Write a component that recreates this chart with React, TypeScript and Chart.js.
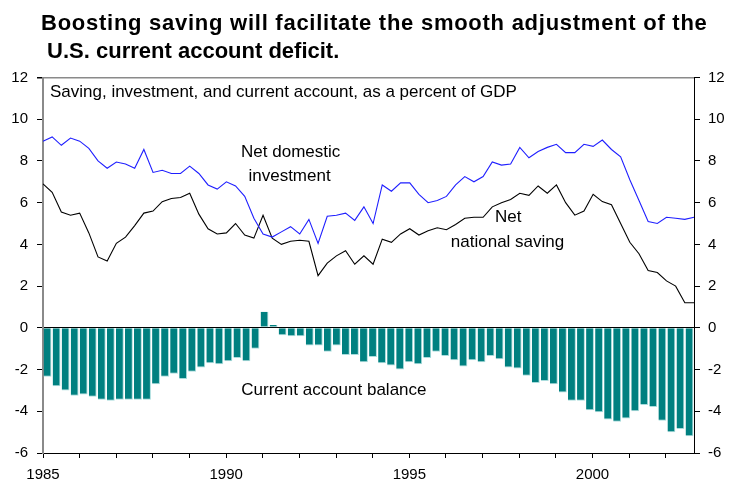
import React, { useEffect, useRef } from 'react';
import { Chart, registerables } from 'chart.js';

Chart.register(...registerables);

const YEARS = [1985, 1986, 1987, 1988, 1989, 1990, 1991, 1992, 1993, 1994, 1995, 1996, 1997, 1998, 1999, 2000, 2001, 2002];
const QUARTER_NAMES = ['Q1', 'Q2', 'Q3', 'Q4'];
const QUARTERS = YEARS.flatMap((y) => QUARTER_NAMES.map((q) => `${y}${q}`));
const YEAR_LABELS = [1985, 1990, 1995, 2000];
const Y_TICKS = [-6, -4, -2, 0, 2, 4, 6, 8, 10, 12];
const X_MIN = 1985;
const X_MAX = 2002.77;

const NET_DOMESTIC_INVESTMENT = [
  8.95, 9.15, 8.75, 9.1, 8.95, 8.6, 8.0, 7.65, 7.95, 7.85, 7.65, 8.55,
  7.45, 7.55, 7.4, 7.4, 7.75, 7.4, 6.85, 6.65, 7.0, 6.8, 6.3, 5.25,
  4.5, 4.35, 4.6, 4.85, 4.5, 5.2, 4.05, 5.35, 5.4, 5.5, 5.15, 5.8,
  5.0, 6.85, 6.55, 6.95, 6.95, 6.4, 6.0, 6.1, 6.3, 6.85, 7.25, 7.0,
  7.25, 7.95, 7.8, 7.85, 8.65, 8.15, 8.45, 8.65, 8.8, 8.4, 8.4, 8.8,
  8.7, 9.0, 8.55, 8.2, 7.1, 6.1, 5.1, 5.0, 5.3, 5.25, 5.2, 5.3,
];

const NET_NATIONAL_SAVING = [
  6.9, 6.5, 5.55, 5.4, 5.5, 4.55, 3.4, 3.2, 4.05, 4.35, 4.9, 5.5,
  5.6, 6.05, 6.2, 6.25, 6.45, 5.45, 4.75, 4.5, 4.55, 5.0, 4.45, 4.3,
  5.4, 4.3, 4.0, 4.15, 4.2, 4.15, 2.5, 3.1, 3.45, 3.7, 3.05, 3.45,
  3.05, 4.25, 4.1, 4.5, 4.75, 4.45, 4.65, 4.8, 4.7, 4.95, 5.25, 5.3,
  5.3, 5.8, 6.0, 6.15, 6.45, 6.35, 6.8, 6.45, 6.85, 6.0, 5.4, 5.6,
  6.4, 6.05, 5.9, 5.0, 4.1, 3.55, 2.75, 2.65, 2.25, 2.0, 1.2, 1.2,
];

const CURRENT_ACCOUNT_BALANCE = [
  -2.35, -2.8, -3.0, -3.25, -3.2, -3.3, -3.45, -3.5, -3.45, -3.45, -3.45, -3.45,
  -2.7, -2.35, -2.2, -2.45, -2.1, -1.9, -1.7, -1.75, -1.6, -1.45, -1.6, -1.0,
  0.77, 0.13, -0.35, -0.4, -0.4, -0.85, -0.85, -1.15, -0.85, -1.3, -1.3, -1.65,
  -1.4, -1.7, -1.8, -2.0, -1.65, -1.75, -1.45, -1.15, -1.35, -1.55, -1.85, -1.55,
  -1.65, -1.35, -1.5, -1.9, -1.95, -2.3, -2.65, -2.55, -2.7, -3.1, -3.5, -3.5,
  -3.95, -4.05, -4.4, -4.5, -4.35, -4.0, -3.7, -3.8, -4.45, -5.0, -4.85, -5.2,
];

const TITLE_LINES = [
  'Boosting saving will facilitate the smooth adjustment of the',
  ' U.S. current account deficit.',
];
const SUBTITLE = 'Saving, investment, and current account, as a percent of GDP';

const ANNOTATIONS = [
  { text: 'Net domestic', x: 1991.76, y: 8.43, align: 'center' },
  { text: 'investment', x: 1991.73, y: 7.28, align: 'center' },
  { text: 'Net', x: 1997.7, y: 5.32, align: 'center' },
  { text: 'national saving', x: 1997.68, y: 4.12, align: 'center' },
  { text: 'Current account balance', x: 1992.94, y: -2.99, align: 'center' },
  { text: SUBTITLE, x: 1985.19, y: 11.3, align: 'left' },
];

const FONT = '"Liberation Sans", Arial, sans-serif';

const textPlugin = {
  id: 'textPlugin',
  afterDraw(chart: any) {
    const ctx = chart.ctx;
    const xs = chart.scales.x;
    const ys = chart.scales.y;
    ctx.save();
    ctx.fillStyle = '#000';
    ctx.textBaseline = 'alphabetic';
    ctx.textAlign = 'left';
    ctx.font = `bold 22px ${FONT}`;
    (ctx as any).letterSpacing = '0.74px';
    ctx.fillText(TITLE_LINES[0], 41, 30);
    (ctx as any).letterSpacing = '0px';
    ctx.fillText(TITLE_LINES[1], 41, 58);
    ctx.textBaseline = 'middle';
    for (const a of ANNOTATIONS) {
      ctx.font = `17px ${FONT}`;
      ctx.textAlign = a.align;
      ctx.fillText(a.text, xs.getPixelForValue(a.x), ys.getPixelForValue(a.y));
    }
    ctx.restore();
  },
};

export default function App() {
  const ref = useRef<HTMLCanvasElement | null>(null);

  useEffect(() => {
    if (!ref.current) return;
    const chart = new Chart(ref.current, {
      type: 'bar',
      data: {
        labels: QUARTERS,
        datasets: [
          {
            type: 'line',
            label: 'Net domestic investment',
            data: NET_DOMESTIC_INVESTMENT,
            xAxisID: 'xl',
            yAxisID: 'y',
            borderColor: '#1f1fff',
            borderWidth: 1.1,
            pointRadius: 0,
            tension: 0,
            fill: false,
            order: 1,
          },
          {
            type: 'line',
            label: 'Net national saving',
            data: NET_NATIONAL_SAVING,
            xAxisID: 'xl',
            yAxisID: 'y',
            borderColor: '#000000',
            borderWidth: 1.1,
            pointRadius: 0,
            tension: 0,
            fill: false,
            order: 1,
          },
          {
            type: 'bar',
            label: 'Current account balance',
            data: CURRENT_ACCOUNT_BALANCE,
            xAxisID: 'xb',
            yAxisID: 'y',
            backgroundColor: '#008080',
            borderColor: '#a9dcdc',
            borderWidth: { top: 0, left: 0, right: 1, bottom: 1 },
            borderSkipped: false,
            grouped: false,
            categoryPercentage: 1,
            barPercentage: 0.87,
            order: 2,
          },
        ],
      } as any,
      options: {
        animation: false,
        responsive: false,
        maintainAspectRatio: false,
        layout: { padding: { top: 77.5, left: 0, right: 0, bottom: 0 } },
        plugins: {
          legend: { display: false },
          title: { display: false },
          tooltip: { enabled: false },
        },
        scales: {
          x: {
            type: 'linear',
            position: 'bottom',
            offset: false,
            min: X_MIN,
            max: X_MAX,
            afterBuildTicks: (scale: any) => {
              scale.ticks = YEARS.map((v) => ({ value: v }));
            },
            afterFit: (scale: any) => {
              scale.height = 31;
              scale.paddingLeft = 0;
              scale.paddingRight = 0;
            },
            ticks: {
              autoSkip: false,
              maxRotation: 0,
              padding: 8,
              color: '#000',
              font: { family: FONT, size: 15 },
              callback: (v: any) => (YEAR_LABELS.includes(Number(v)) ? String(v) : ''),
            },
            grid: { offset: false, drawOnChartArea: false, tickLength: 5, tickColor: '#000' },
            border: { color: '#000', width: 1 },
          },
          xb: {
            type: 'category',
            display: false,
            offset: true,
            grid: { offset: true },
          },
          xl: {
            type: 'category',
            display: false,
            offset: false,
            grid: { offset: false },
          },
          y: {
            type: 'linear',
            position: 'left',
            min: -6,
            max: 12,
            afterBuildTicks: (scale: any) => {
              scale.ticks = Y_TICKS.map((v) => ({ value: v }));
            },
            afterFit: (scale: any) => {
              scale.width = 43;
            },
            ticks: {
              padding: 9,
              color: '#000',
              font: { family: FONT, size: 15 },
            },
            grid: {
              drawOnChartArea: true,
              tickLength: 6,
              tickColor: '#000',
              color: (c: any) =>
                c.tick && c.tick.value === 0 ? '#000' : c.tick && c.tick.value === 12 ? '#8a8a8a' : 'rgba(0,0,0,0)',
              lineWidth: (c: any) => (c.tick && c.tick.value === 12 ? 1.5 : 1),
            },
            border: { color: '#8a8a8a', width: 2 },
          },
          y2: {
            type: 'linear',
            position: 'right',
            min: -6,
            max: 12,
            afterBuildTicks: (scale: any) => {
              scale.ticks = Y_TICKS.map((v) => ({ value: v }));
            },
            afterFit: (scale: any) => {
              scale.width = 42;
            },
            ticks: {
              padding: 8,
              color: '#000',
              font: { family: FONT, size: 15 },
            },
            grid: { drawOnChartArea: false, tickLength: 6, tickColor: '#000' },
            border: { color: '#000', width: 1 },
          },
        },
      } as any,
      plugins: [textPlugin],
    });
    return () => chart.destroy();
  }, []);

  return (
    <div style={{ position: 'absolute', left: 0, top: 0, width: 736, height: 484, background: '#fff' }}>
      <canvas ref={ref} width={736} height={484} style={{ width: 736, height: 484 }} />
    </div>
  );
}
